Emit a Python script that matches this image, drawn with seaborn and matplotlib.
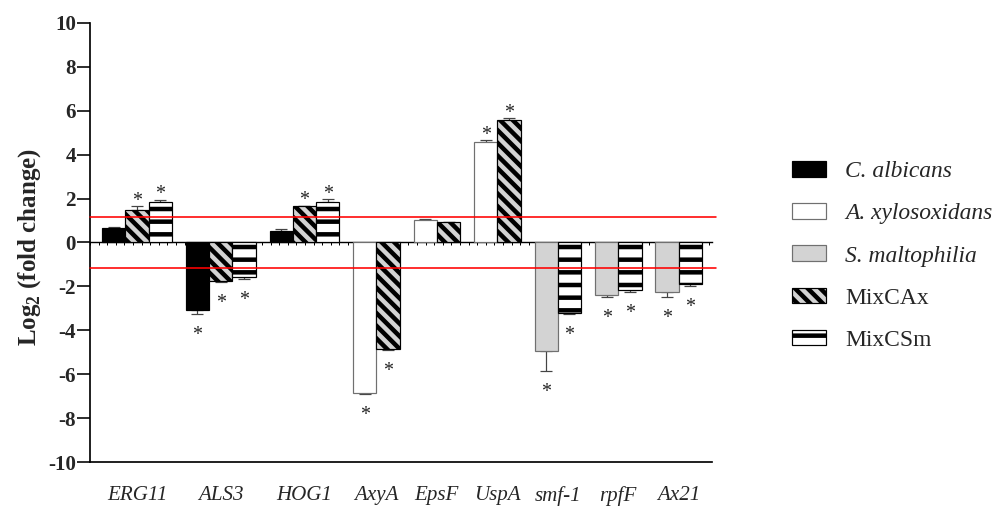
import numpy as np
import pandas as pd
import matplotlib
matplotlib.use("Agg")
import matplotlib.pyplot as plt
from matplotlib.patches import Patch
import seaborn as sns

nan = np.nan

# ---- data: log2 fold change per gene (NaN = strain not measured for that gene)
genes = ["ERG11", "ALS3", "HOG1", "AxyA", "EpsF", "UspA", "smf-1", "rpfF", "Ax21"]
strains = ["C. albicans", "A. xylosoxidans", "S. maltophilia", "MixCAx", "MixCSm"]

c_albicans = [0.68, -3.05, 0.53, nan, nan, nan, nan, nan, nan]
a_xylosoxidans = [nan, nan, nan, -6.84, 1.01, 4.56, nan, nan, nan]
s_maltophilia = [nan, nan, nan, nan, nan, nan, -4.94, -2.41, -2.26]
mix_cax = [1.50, -1.74, 1.64, -4.85, 0.92, 5.56, nan, nan, nan]
mix_csm = [1.84, -1.56, 1.82, nan, nan, nan, -3.23, -2.17, -1.90]

# standard errors
c_albicans_err = [0.04, 0.20, 0.07, nan, nan, nan, nan, nan, nan]
a_xylosoxidans_err = [nan, nan, nan, 0.07, 0.04, 0.10, nan, nan, nan]
s_maltophilia_err = [nan, nan, nan, nan, nan, nan, 0.91, 0.09, 0.20]
mix_cax_err = [0.15, 0.05, 0.03, 0.03, 0.02, 0.10, nan, nan, nan]
mix_csm_err = [0.10, 0.12, 0.15, nan, nan, nan, 0.03, 0.10, 0.10]

# significance (1 = marked with an asterisk)
c_albicans_sig = [0, 1, 0, 0, 0, 0, 0, 0, 0]
a_xylosoxidans_sig = [0, 0, 0, 1, 0, 1, 0, 0, 0]
s_maltophilia_sig = [0, 0, 0, 0, 0, 0, 1, 1, 1]
mix_cax_sig = [1, 1, 1, 1, 0, 1, 0, 0, 0]
mix_csm_sig = [1, 1, 1, 0, 0, 0, 1, 1, 1]

threshold = 1.15
yticks = list(range(-10, 11, 2))

series = {
    "C. albicans": (c_albicans, c_albicans_err, c_albicans_sig),
    "A. xylosoxidans": (a_xylosoxidans, a_xylosoxidans_err, a_xylosoxidans_sig),
    "S. maltophilia": (s_maltophilia, s_maltophilia_err, s_maltophilia_sig),
    "MixCAx": (mix_cax, mix_cax_err, mix_cax_sig),
    "MixCSm": (mix_csm, mix_csm_err, mix_csm_sig),
}

# ---- layout: bars of one gene sit side by side, genes separated by a gap
GAP = 0.6
rows = []
centers = []
pos = 0.0
for gi, gene in enumerate(genes):
    group = []
    for s in strains:
        v, e, sig = series[s]
        if not np.isnan(v[gi]):
            rows.append(dict(gene=gene, strain=s, pos=pos, value=v[gi], err=e[gi], sig=sig[gi]))
            group.append(pos)
            pos += 1.0
    centers.append(np.mean(group))
    pos += GAP
df = pd.DataFrame(rows)

DPI = 76


def pt(px):
    return px * 72.0 / DPI


sns.set_theme(style="white")
plt.rcParams["font.family"] = ["Liberation Serif", "DejaVu Serif"]
plt.rcParams["mathtext.fontset"] = "custom"
plt.rcParams["mathtext.rm"] = "Liberation Serif"
plt.rcParams["mathtext.bf"] = "Liberation Serif:bold"
plt.rcParams["hatch.linewidth"] = pt(4.5)
plt.rcParams["hatch.color"] = "black"

styles = {
    "C. albicans": dict(facecolor="black", edgecolor="black", hatch=None),
    "A. xylosoxidans": dict(facecolor="white", edgecolor="#707070", hatch=None),
    "S. maltophilia": dict(facecolor="#d3d3d3", edgecolor="#707070", hatch=None),
    "MixCAx": dict(facecolor="#d3d3d3", edgecolor="black", hatch="\\\\"),
    "MixCSm": dict(facecolor="white", edgecolor="black", hatch="-"),
}

fig = plt.figure(figsize=(1004 / DPI, 507 / DPI), dpi=DPI)
ax = fig.add_axes([90 / 1004, 44.7 / 507, 622 / 1004, 439.6 / 507])

sns.barplot(
    data=df, x="pos", y="value", hue="strain", hue_order=strains,
    palette={s: styles[s]["facecolor"] for s in strains},
    native_scale=True, dodge=False, width=1.0, errorbar=None,
    legend=False, ax=ax, saturation=1,
)

for s, cont in zip([s for s in strains if s in set(df["strain"])], ax.containers):
    st = styles[s]
    for bar in cont:
        bar.set_facecolor(st["facecolor"])
        bar.set_edgecolor(st["edgecolor"])
        bar.set_linewidth(pt(1.2))
        bar.set_zorder(2)
        if st["hatch"]:
            bar.set_hatch(st["hatch"])

# one-sided error bars, drawn behind the bars
sign = np.sign(df["value"].to_numpy())
err = df["err"].to_numpy()
lower = np.where(sign < 0, err, 0)
upper = np.where(sign > 0, err, 0)
ax.errorbar(df["pos"], df["value"], yerr=[lower, upper], fmt="none",
            ecolor="#444444", elinewidth=pt(1.2), capsize=pt(6), capthick=pt(1.2),
            zorder=1.5)

# significance asterisks
for _, r in df[df["sig"] == 1].iterrows():
    tip = r["value"] + np.sign(r["value"]) * r["err"]
    off = pt(0.5) if r["value"] > 0 else -pt(26)
    ax.annotate("*", xy=(r["pos"], tip), xytext=(0, off), textcoords="offset points",
                ha="center", va="baseline", fontsize=pt(20), color="#222222")

# fold-change thresholds
for y in (threshold, -threshold):
    ax.axhline(y, xmin=0, xmax=1.007, color="#ff0000", lw=pt(1.6), zorder=4, clip_on=False)

ax.set_xlim(-1.02, pos - GAP - 0.5 + 0.43)
ax.set_ylim(-10, 10)
ax.set_yticks(yticks)
ax.set_yticklabels([str(t) for t in yticks], fontweight="bold", fontsize=pt(21))
ax.set_xticks(centers)
ax.set_xticklabels(genes, fontstyle="italic", fontsize=pt(21))
ax.set_xlabel("")
ax.set_ylabel(r"Log$_{\mathbf{2}}$ (fold change)", fontweight="bold", fontsize=pt(25))
ax.yaxis.set_label_coords(-0.075, 0.49)

ax.tick_params(axis="y", length=pt(13), width=pt(1.6), color="black", pad=pt(1), left=True)
ax.tick_params(axis="x", length=0, pad=pt(24))
for side in ("top", "right"):
    ax.spines[side].set_visible(False)
for side in ("left", "bottom"):
    ax.spines[side].set_color("black")
    ax.spines[side].set_linewidth(pt(1.7))

# baseline at zero with fine tick marks
zero_axis = ax.secondary_xaxis(0.5)
zero_axis.set_xticks(np.arange(-1.02, pos, 0.37))
zero_axis.tick_params(axis="x", direction="in", length=pt(3), width=pt(1), color="black",
                      labeltop=False, labelbottom=False)
for sp in zero_axis.spines.values():
    sp.set_color("black")
    sp.set_linewidth(pt(1.4))

# legend
handles = [Patch(facecolor=styles[s]["facecolor"], edgecolor=styles[s]["edgecolor"],
                 hatch=styles[s]["hatch"], linewidth=pt(1.2)) for s in strains]
labels = ["C. albicans", "A. xylosoxidans", "S. maltophilia", "MixCAx", "MixCSm"]
fs = 23.5
leg = fig.legend(handles, labels, loc="center left", bbox_to_anchor=(792 / 1004, 1 - 256 / 507),
                 frameon=False, fontsize=pt(fs), handlelength=34 / fs, handleheight=15 / fs,
                 handletextpad=19 / fs, labelspacing=0.9, borderpad=0, borderaxespad=0)
for txt, s in zip(leg.get_texts(), strains):
    if s.startswith(("C.", "A.", "S.")):
        txt.set_fontstyle("italic")

fig.savefig("out.png", dpi=DPI)
